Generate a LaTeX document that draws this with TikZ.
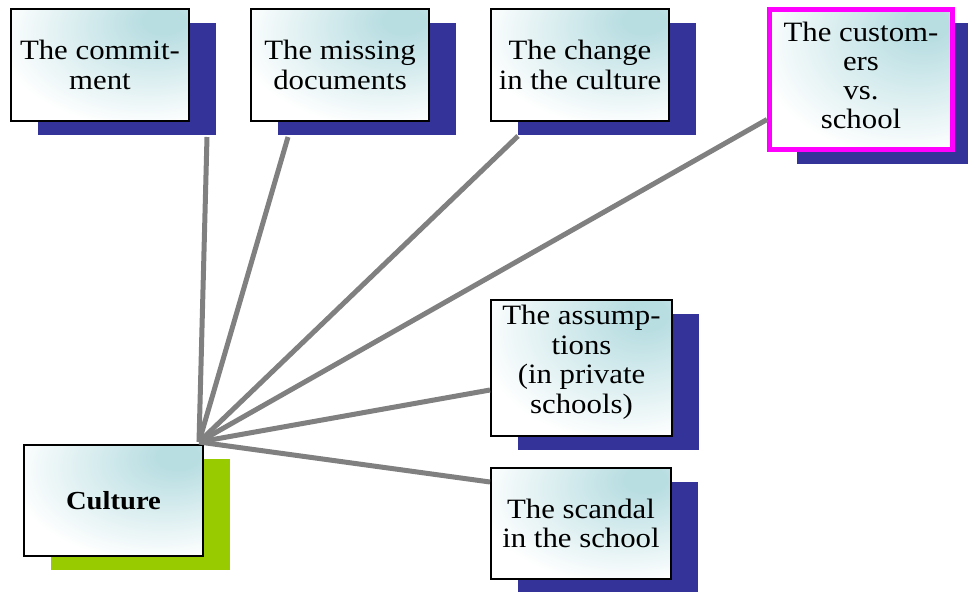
\documentclass[tikz,border=0pt]{standalone}
\usepackage{fontspec}
\setmainfont{Liberation Serif}[FakeStretch=1.1]
\usetikzlibrary{shadows}
\definecolor{boxcyan}{HTML}{B9DEE2}
\definecolor{shadowblue}{HTML}{333399}
\definecolor{shadowgreen}{HTML}{99CC00}
\definecolor{linkgray}{HTML}{808080}
\definecolor{hilite}{HTML}{FF00FF}
% soft cyan glow spreading from the upper right corner of each box
% (a filled path covers the inner 50bp square of the shading)
\pgfdeclareradialshading{cornerglow}{\pgfpoint{19bp}{21bp}}{%
  color(0bp)=(boxcyan); color(6bp)=(boxcyan); color(40bp)=(white); color(100bp)=(white)}
% centred lines of text, lifted above the middle of their box
\newcommand\liftlines[2]{\raisebox{#1}[\height][\depth]{\begin{tabular}{@{}c@{}}#2\end{tabular}}}
\begin{document}
\begin{tikzpicture}[x=1pt,y=-1pt,
  topic/.style={draw=black, line width=2pt, shading=cornerglow, align=center, inner sep=0pt,
    font=\fontsize{28}{29.5}\selectfont,
    general shadow={shadow xshift=27pt, shadow yshift=-14pt, fill=shadowblue, draw=none}},
  link/.style={draw=linkgray, line width=5pt}]
\useasboundingbox (0,0) rectangle (968,591);
\begin{scope}
\clip (0,0) rectangle (968,591);
% central topic
\node[topic, minimum width=179pt, minimum height=111pt,
  general shadow={shadow xshift=27pt, shadow yshift=-14pt, fill=shadowgreen, draw=none},
  font=\fontsize{26}{30}\bfseries] (culture) at (113.5,500.5) {Culture};
% surrounding topics
\node[topic, minimum width=178pt, minimum height=112pt] (commit) at (100,65) {The commit-\\ment};
\node[topic, minimum width=178pt, minimum height=112pt] (missing) at (340,65) {The missing\\documents};
\node[topic, minimum width=178pt, minimum height=112pt] (change) at (580,65) {The change\\in the culture};
\node[topic, draw=hilite, line width=5pt, minimum width=183pt, minimum height=140pt,
  align=none, font=\fontsize{28}{29}\selectfont] (custom) at (861,79.5)
  {\liftlines{0pt}{The custom-\\ers\\vs.\\school}};
\node[topic, minimum width=181pt, minimum height=136pt,
  align=none, font=\fontsize{28}{29.5}\selectfont] (assume) at (581.5,368)
  {\liftlines{5pt}{The assump-\\tions\\(in private\\schools)}};
\node[topic, minimum width=180pt, minimum height=111pt] (scandal) at (581,523.5) {The scandal\\in the school};
\end{scope}
% connectors from the hub at the corner of the central topic
\coordinate (hub) at (199,442);
\coordinate (commitend) at (207,137);
\coordinate (missingend) at (288,137);
\coordinate (changeend) at (518,136);
\path (custom.west) ++(0,40) coordinate (customend);
\coordinate (assumeend) at (assume.west |- 0,390);
\coordinate (scandalend) at (scandal.west |- 0,482);
\draw[link] (hub) -- (commitend);
\draw[link] (hub) -- (missingend);
\draw[link] (hub) -- (changeend);
\draw[link] (hub) -- (customend);
\draw[link] (hub) -- (assumeend);
\draw[link] (hub) -- (scandalend);
\end{tikzpicture}
\end{document}
